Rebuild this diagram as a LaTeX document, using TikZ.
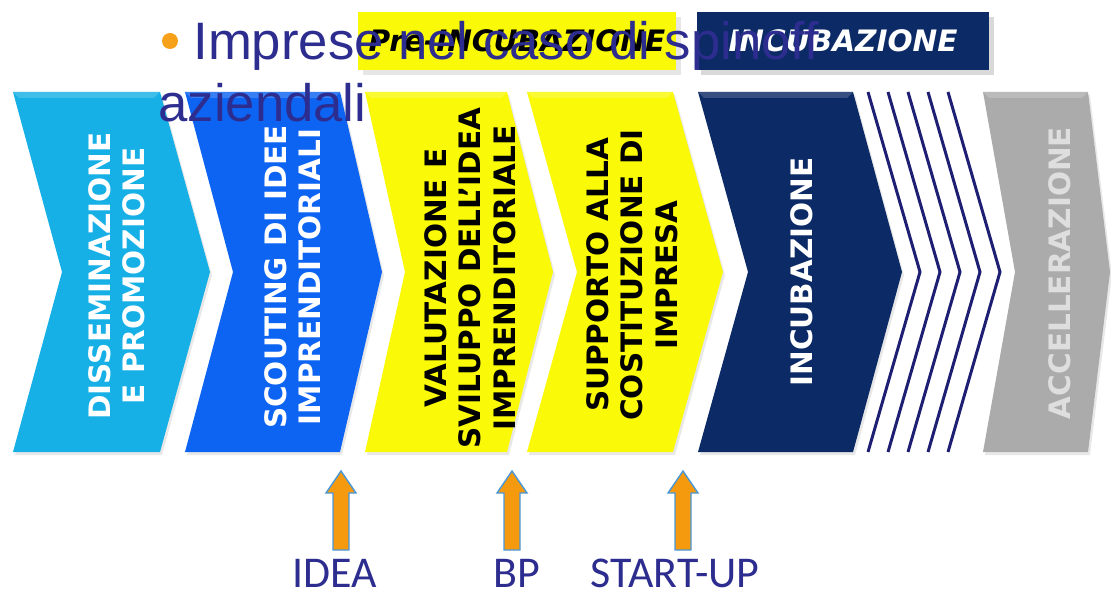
\documentclass[tikz,border=0pt]{standalone}
\usepackage{fontspec}
\setmainfont{Liberation Sans}
\newfontfamily\verdfont{DejaVu Sans}
\newfontfamily\califont{Carlito}
\usetikzlibrary{shadows}

\definecolor{cyanstep}{HTML}{17B0E6}
\definecolor{bluestep}{HTML}{0E64F2}
\definecolor{yellowstep}{HTML}{FAFA08}
\definecolor{navystep}{HTML}{0B2A66}
\definecolor{graystep}{HTML}{ABABAB}
\definecolor{stripecol}{HTML}{1E1E72}
\definecolor{titleblue}{HTML}{2D2D90}
\definecolor{bulletorange}{HTML}{F7A11A}
\definecolor{arroworange}{HTML}{F59A0E}
\definecolor{arrowedge}{HTML}{4A98D8}

% colour, left, shoulder, tip, notch
\newcommand{\pchev}[5]{%
  \fill[#1, drop shadow={opacity=0.18, shadow xshift=0.04cm, shadow yshift=-0.06cm}]
    (#2,92) -- (#3,92) -- (#4,272) -- (#3,452) -- (#2,452) -- (#5,272) -- cycle;
  \fill[white, opacity=0.18] (#2,92) -- (#3,92) -- ({#3-6},98) -- ({#2+6},98) -- cycle;}

\begin{document}
\begin{tikzpicture}[x=0.02cm, y=-0.02cm,
    steptext/.style={rotate=90, align=center, font=\verdfont\bfseries\fontsize{16.8}{19.5}\selectfont},
    banner/.style={minimum height=1.16cm, inner sep=0, font=\verdfont\bfseries\itshape\fontsize{16.8}{19}\selectfont},
    stripe/.style={draw=stripecol, line width=1.7pt},
    milestone/.style={text=titleblue, anchor=base, inner sep=0, font=\califont\fontsize{25}{28}\selectfont},
    uparrow/.style={fill=arroworange, draw=arrowedge, line width=0.8pt}]
  \useasboundingbox (0,0) rectangle (1111,597);

  % phase banners
  \node[banner, fill=yellowstep, minimum width=6.36cm, drop shadow={opacity=0.2}] (prebanner) at (517,41) {Pre-INCUBAZIONE};
  \node[banner, fill=navystep, text=white, minimum width=5.86cm, drop shadow={opacity=0.3}] (incbanner) at (843,41) {INCUBAZIONE};

  % chevrons
  \pchev{cyanstep}{13}{160}{210}{62}
  \pchev{bluestep}{185}{340}{382}{233}
  \pchev{yellowstep}{365}{507}{553}{405}
  \pchev{yellowstep}{527}{673}{723}{577}
  \pchev{navystep}{698}{853}{902}{748}
  \pchev{graystep}{983}{1088}{1110}{1015}

  \foreach \i in {0,...,4}
    \draw[stripe] ({868+20*\i},92) -- ({920+20*\i},272) -- ({868+20*\i},452);

  \node[steptext, text=white] (dissem) at (117,276) {DISSEMINAZIONE\\E PROMOZIONE};
  \node[steptext, text=white] (scout) at (293,277) {SCOUTING DI IDEE\\IMPRENDITORIALI};
  \node[steptext] (valut) at (470,278) {VALUTAZIONE E\\SVILUPPO DELL’IDEA\\IMPRENDITORIALE};
  \node[steptext] (supp) at (632,275) {SUPPORTO ALLA\\COSTITUZIONE DI\\IMPRESA};
  \node[steptext, text=white] (incub) at (802,272) {INCUBAZIONE};
  \node[steptext, text=black!13] (accel) at (1060,273) {ACCELLERAZIONE};

  % milestones
  \foreach \ax/\lx/\nm/\lab in {341/335/idea/IDEA, 512/517/bp/BP, 683/675/startup/START-UP} {
    \filldraw[uparrow] ({\ax-8},550) -- ({\ax-8},493) -- ({\ax-15},493) -- (\ax,471)
      -- ({\ax+15},493) -- ({\ax+8},493) -- ({\ax+8},550) -- cycle;
    \node[milestone] (\nm) at (\lx,587) {\lab};
  }

  % slide title on top
  \node[circle, fill=bulletorange, minimum size=0.32cm, inner sep=0] (bullet) at (170,41) {};
  \node[anchor=base west, inner sep=0, text=titleblue, font=\fontsize{30}{36}\selectfont] (title) at (193,60) {Imprese nel caso di spinoff};
  \node[anchor=base west, inner sep=0, text=titleblue, font=\fontsize{30}{36}\selectfont] (titlecont) at (158,122) {aziendali};
\end{tikzpicture}
\end{document}
